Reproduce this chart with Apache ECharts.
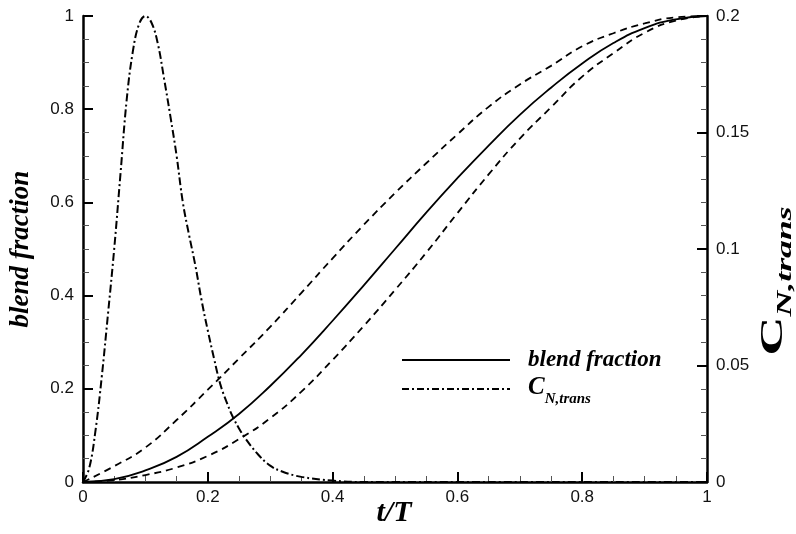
<!DOCTYPE html>
<html><head><meta charset="utf-8">
<script src="https://cdn.jsdelivr.net/npm/echarts@6/dist/echarts.min.js"></script>
<style>html,body{margin:0;padding:0;background:#fff}#c{width:796px;height:534px}</style>
</head><body><div id="c"></div>
<script>
// ---- data ----
const tGrid = [0,0.05,0.1,0.15,0.2,0.25,0.3,0.35,0.4,0.45,0.5,0.55,0.6,0.65,0.7,0.75,0.8,0.85,0.9,0.95,1];
const blendFraction = [0,0.006,0.025,0.054,0.097,0.146,0.206,0.273,0.346,0.422,0.500,0.578,0.652,0.722,0.788,0.846,0.898,0.942,0.974,0.993,1];
const blendUpper    = [0,0.034,0.074,0.133,0.198,0.265,0.333,0.406,0.480,0.552,0.620,0.684,0.746,0.805,0.853,0.893,0.935,0.963,0.984,0.997,1];
const blendLower    = [0,0.004,0.015,0.031,0.056,0.092,0.137,0.194,0.262,0.335,0.412,0.492,0.577,0.660,0.737,0.804,0.870,0.920,0.964,0.990,1];
const cnT     = [0,0.01,0.02,0.03,0.04,0.05,0.06,0.07,0.08,0.09,0.10,0.11,0.12,0.13,0.14,0.15,0.16,0.17,0.18,0.19,0.20,0.21,0.22,0.23,0.24,0.25,0.26,0.28,0.30,0.32,0.35,0.40,0.45,0.5,0.6,0.7,0.8,0.9,1];
const cnTrans = [0,0.006,0.022,0.045,0.072,0.100,0.132,0.164,0.185,0.1966,0.200,0.197,0.188,0.173,0.157,0.140,0.120,0.106,0.093,0.078,0.065,0.053,0.042,0.0344,0.028,0.023,0.0188,0.012,0.007,0.0044,0.0022,0.0006,0,0,0,0,0,0,0];
const xTicks = [0,0.2,0.4,0.6,0.8,1];
const leftTicks = [0,0.2,0.4,0.6,0.8,1];
const rightTicks = [0,0.05,0.1,0.15,0.2];
const legendNames = ['blend fraction','C_N,trans'];

const pairs = (xs, ys) => xs.map((x,i)=>[x, ys[i]]);
const SERIF = '"Liberation Serif","Times New Roman",serif';
const SANS = '"Liberation Sans",Arial,sans-serif';

const chart = echarts.init(document.getElementById('c'), null, {renderer:'canvas'});
const axisCommon = {
  axisLine:{show:true,onZero:false,lineStyle:{color:'#000',width:2.5}},
  axisTick:{show:true,inside:true,length:10,lineStyle:{color:'#000',width:2}},
  minorTick:{show:true,length:6,lineStyle:{color:'#555',width:1}},
  splitLine:{show:false},minorSplitLine:{show:false},
  axisLabel:{color:'#111',fontFamily:SANS,fontSize:17}
};
chart.setOption({
  animation:false,
  backgroundColor:'#fff',
  grid:{left:83,right:89,top:16,bottom:52},
  xAxis:Object.assign({}, axisCommon, {
    type:'value', min:xTicks[0], max:xTicks[xTicks.length-1], interval:xTicks[1]-xTicks[0],
    minorTick:Object.assign({}, axisCommon.minorTick, {splitNumber:4}),
    axisLabel:Object.assign({}, axisCommon.axisLabel, {margin:7})
  }),
  yAxis:[
    Object.assign({}, axisCommon, {
      type:'value', position:'left', min:leftTicks[0], max:leftTicks[leftTicks.length-1], interval:leftTicks[1]-leftTicks[0],
      minorTick:Object.assign({}, axisCommon.minorTick, {splitNumber:4}),
      axisLabel:Object.assign({}, axisCommon.axisLabel, {margin:9})
    }),
    Object.assign({}, axisCommon, {
      type:'value', position:'right', min:rightTicks[0], max:rightTicks[rightTicks.length-1], interval:rightTicks[1]-rightTicks[0],
      minorTick:Object.assign({}, axisCommon.minorTick, {splitNumber:5}),
      axisLabel:Object.assign({}, axisCommon.axisLabel, {margin:9,
        formatter:v=>String(Math.round(v*1000)/1000)})
    })
  ],
  series:[
    {name:legendNames[0], type:'line', data:pairs(tGrid, blendFraction), showSymbol:false, smooth:0.5,
     lineStyle:{color:'#000',width:1.8,type:'solid'}, z:3},
    {name:'upper', type:'line', data:pairs(tGrid, blendUpper), showSymbol:false, smooth:0.5,
     lineStyle:{color:'#000',width:1.8,type:[7,5]}, z:3},
    {name:'lower', type:'line', data:pairs(tGrid, blendLower), showSymbol:false, smooth:0.5,
     lineStyle:{color:'#000',width:1.8,type:[7,5]}, z:3},
    {name:legendNames[1], type:'line', yAxisIndex:1, data:pairs(cnT, cnTrans), showSymbol:false, smooth:0.4,
     lineStyle:{color:'#000',width:2,type:[8,3,2,3]}, z:3}
  ],
  graphic:[
    // legend
    {type:'line', shape:{x1:402,y1:360,x2:510,y2:360}, style:{stroke:'#000',lineWidth:2}},
    {type:'text', x:528, y:360, style:{text:'blend fraction', fill:'#000', font:'italic bold 23px '+SERIF, textVerticalAlign:'middle'}},
    {type:'line', shape:{x1:402,y1:389,x2:510,y2:389}, style:{stroke:'#000',lineWidth:2,lineDash:[7,3,2,3]}},
    {type:'text', x:528, y:391, style:{
      text:'{c|C}{s|N,trans}', textVerticalAlign:'middle',
      rich:{c:{fontFamily:SERIF,fontStyle:'italic',fontWeight:'bold',fontSize:25,fill:'#000',padding:[0,0,6,0]},
            s:{fontFamily:SERIF,fontStyle:'italic',fontWeight:'bold',fontSize:15,fill:'#000',verticalAlign:'bottom'}}}},
    // axis titles
    {type:'text', x:21, y:249, rotation:Math.PI/2, style:{text:'blend fraction', fill:'#000', font:'italic bold 27px '+SERIF, textAlign:'center', textVerticalAlign:'middle'}},
    {type:'text', x:394, y:513, style:{text:'t/T', fill:'#000', font:'italic bold 30px '+SERIF, textAlign:'center', textVerticalAlign:'middle'}},
    {type:'text', x:777, y:281, rotation:Math.PI/2, scaleX:1.7, style:{
      text:'{c|C}{s|N,trans}', textAlign:'center', textVerticalAlign:'middle',
      rich:{c:{fontFamily:SERIF,fontWeight:'bold',fontSize:32,fill:'#000',padding:[0,0,7,0]},
            s:{fontFamily:SERIF,fontStyle:'italic',fontWeight:'bold',fontSize:21,fill:'#000',verticalAlign:'bottom'}}}}
  ]
});
</script></body></html>
